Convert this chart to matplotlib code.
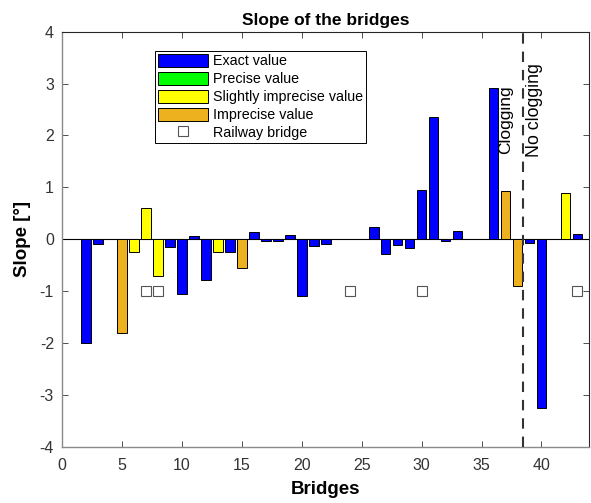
import matplotlib
matplotlib.use("Agg")
import matplotlib.pyplot as plt
from matplotlib.patches import Patch
from matplotlib.lines import Line2D

plt.rcParams['font.family'] = ['Liberation Sans', 'DejaVu Sans']
plt.rcParams['axes.unicode_minus'] = False

bridges = [2, 3, 5, 6, 7, 8, 9, 10, 11, 12, 13, 14, 15, 16, 17, 18, 19, 20, 21, 22,
           26, 27, 28, 29, 30, 31, 32, 33, 36, 37, 38, 39, 40, 42, 43]
slopes = [-2.0, -0.1, -1.8, -0.25, 0.61, -0.70, -0.155, -1.05, 0.07, -0.78, -0.25, -0.25,
          -0.56, 0.13, -0.03, -0.03, 0.09, -1.10, -0.14, -0.10,
          0.23, -0.29, -0.12, -0.16, 0.955, 2.36, -0.03, 0.165, 2.92, 0.93, -0.905,
          -0.077, -3.25, 0.90, 0.096]
quality = ['E', 'E', 'I', 'S', 'S', 'S', 'E', 'E', 'E', 'E', 'S', 'E', 'I', 'E', 'E', 'E',
           'E', 'E', 'E', 'E', 'E', 'E', 'E', 'E', 'E', 'E', 'E', 'E', 'E', 'I', 'I',
           'E', 'E', 'S', 'E']
railway_bridges = [7, 8, 24, 30, 43]
railway_level = [-1, -1, -1, -1, -1]
split_position = 38.5

quality_colors = {'E': '#0000ff', 'P': '#00ff00', 'S': '#ffff00', 'I': '#edb120'}
quality_labels = [('E', 'Exact value'), ('P', 'Precise value'),
                  ('S', 'Slightly imprecise value'), ('I', 'Imprecise value')]

fig = plt.figure(figsize=(5.91, 5.03), dpi=100)
ax = fig.add_axes([62.3 / 591, 1 - 446.7 / 503, 527 / 591, 415 / 503])

ax.bar(bridges, slopes, width=0.8, color=[quality_colors[q] for q in quality],
       edgecolor='black', linewidth=0.7, zorder=3)
ax.axhline(0, color='black', linewidth=0.8, zorder=2)
ax.plot(railway_bridges, railway_level, linestyle='none', marker='s', markersize=7,
        markerfacecolor='white', markeredgecolor='#555555', markeredgewidth=0.8, zorder=4)
ax.axvline(split_position, color='#333333', linestyle=(0, (5, 3.8)), linewidth=1.5, zorder=5)

ax.text(37.0, 1.65, 'Clogging', rotation=90, ha='center', va='bottom', fontsize=12.5)
ax.text(39.4, 1.58, 'No clogging', rotation=90, ha='center', va='bottom', fontsize=12.8)

ax.set_xlim(0, 44)
ax.set_ylim(-4, 4)
ax.set_xticks(range(0, 41, 5))
ax.set_yticks(range(-4, 5))
ax.tick_params(direction='in', top=True, right=True, labelsize=11.5,
               colors='#333333', length=4, width=0.6)
ax.tick_params(axis='x', pad=8)
ax.tick_params(axis='y', pad=6)
for side in ['left', 'bottom']:
    ax.spines[side].set_color('#8a8a8a')
    ax.spines[side].set_linewidth(1.0)
for side in ['top', 'right']:
    ax.spines[side].set_color('#262626')
    ax.spines[side].set_linewidth(0.8)

ax.set_title('Slope of the bridges', fontsize=12.5, fontweight='bold', pad=5)
ax.set_xlabel('Bridges', fontsize=13.5, fontweight='bold', labelpad=6)
ax.set_ylabel('Slope [°]', fontsize=13.5, fontweight='bold', labelpad=6)

handles = [Patch(facecolor=quality_colors[k], edgecolor='black', linewidth=0.7, label=l)
           for k, l in quality_labels]
handles.append(Line2D([], [], linestyle='none', marker='s', markersize=7,
                      markerfacecolor='white', markeredgecolor='#555555',
                      markeredgewidth=0.8, label='Railway bridge'))
leg = ax.legend(handles=handles, loc='upper left', bbox_to_anchor=(0.176, 0.953),
                fontsize=10.3, frameon=True, fancybox=False, framealpha=1,
                edgecolor='black', handlelength=3.5, handleheight=1.0,
                labelspacing=0.25, handletextpad=0.36, borderpad=0.2, borderaxespad=0)
leg.get_frame().set_linewidth(0.7)

fig.savefig('out.png', dpi=100)
